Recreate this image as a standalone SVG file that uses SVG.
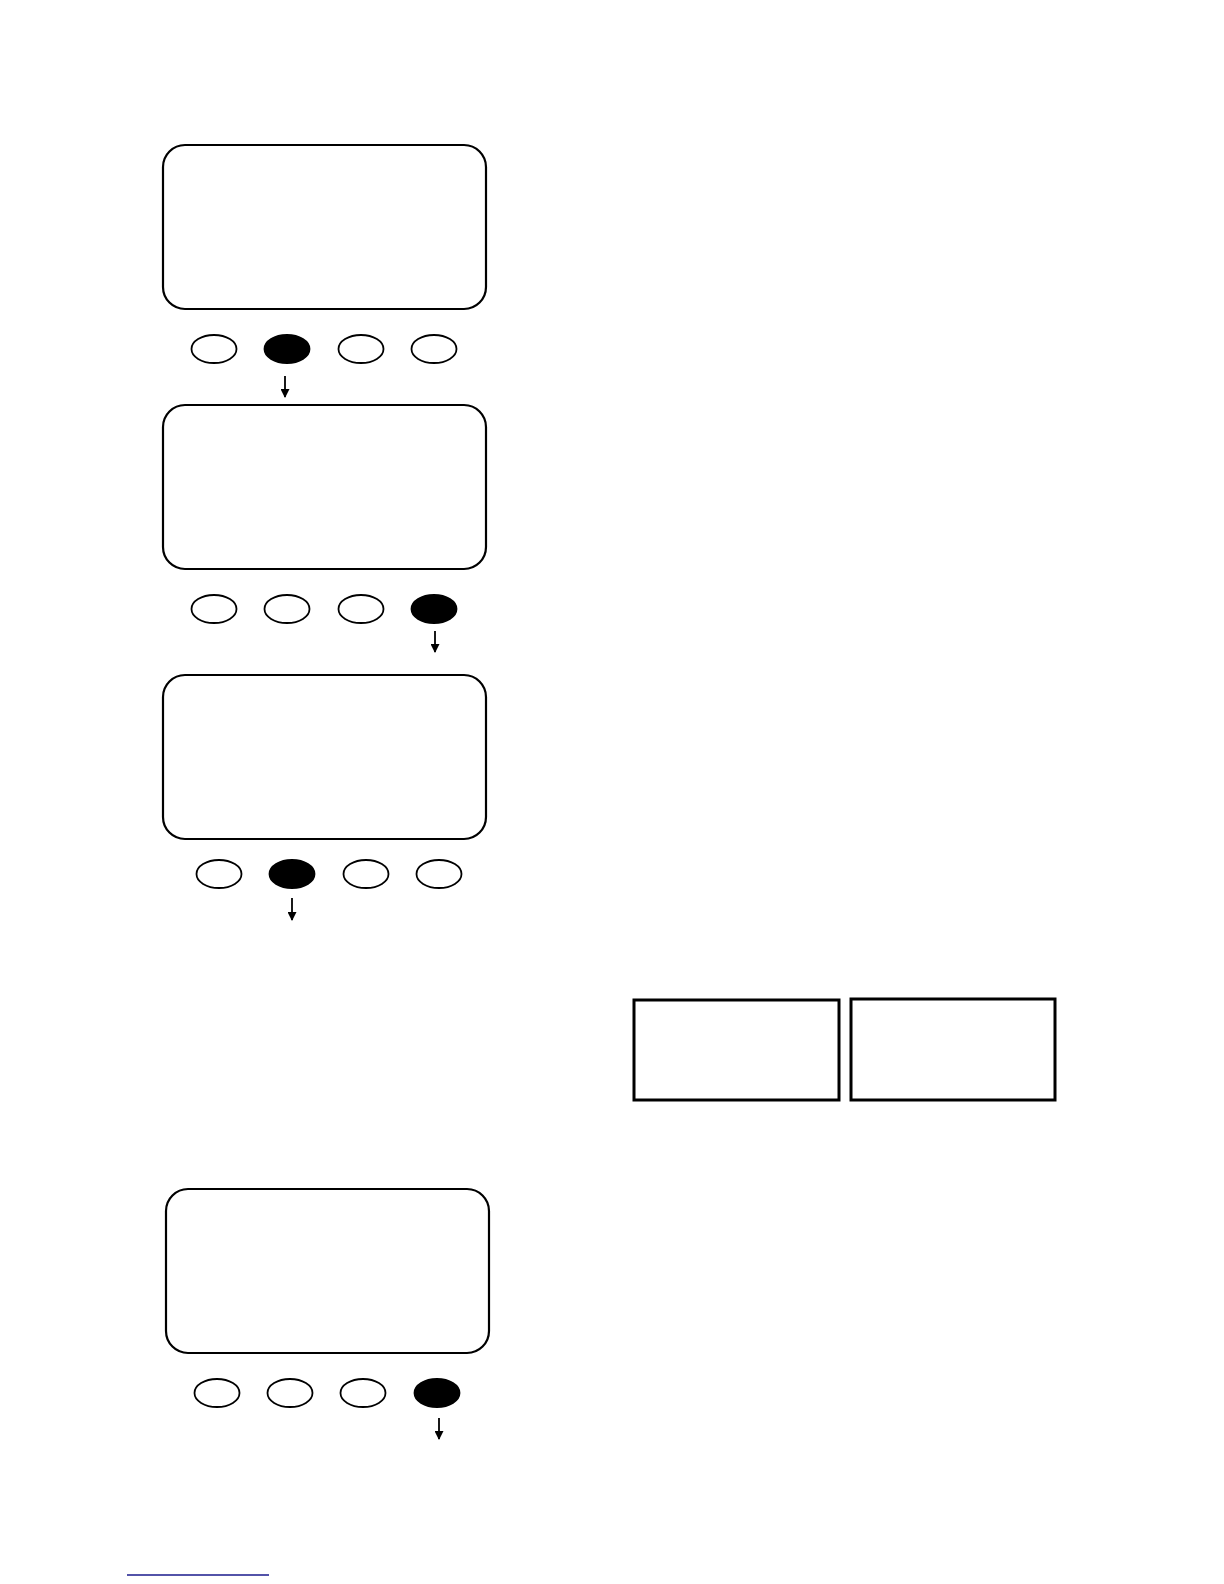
<svg xmlns="http://www.w3.org/2000/svg" width="1224" height="1584" viewBox="0 0 1224 1584">
<style>
.screen{fill:#fff;stroke:#000;stroke-width:2.2}
.btn{fill:#fff;stroke:#000;stroke-width:1.8}
.on{fill:#000;stroke:#000;stroke-width:1.8}
.box{fill:#fff;stroke:#000;stroke-width:3}
.conn{stroke:#000;stroke-width:1.8;fill:none}
</style>
<defs>
<marker id="ah" viewBox="0 0 10 10" refX="9" refY="5" markerWidth="10" markerHeight="9" markerUnits="userSpaceOnUse" orient="auto">
<path d="M0,0 L10,5 L0,10 z" fill="#000"/>
</marker>
</defs>
<rect width="1224" height="1584" fill="#fff"/>
<g id="panel1">
<rect class="screen" x="163" y="145" width="323" height="164" rx="22"/>
<ellipse class="btn" cx="214" cy="349" rx="22.5" ry="14"/>
<ellipse class="on" cx="287" cy="349" rx="22.5" ry="14"/>
<ellipse class="btn" cx="361" cy="349" rx="22.5" ry="14"/>
<ellipse class="btn" cx="434" cy="349" rx="22.5" ry="14"/>
</g>
<g id="panel2">
<rect class="screen" x="163" y="405" width="323" height="164" rx="22"/>
<ellipse class="btn" cx="214" cy="609" rx="22.5" ry="14"/>
<ellipse class="btn" cx="287" cy="609" rx="22.5" ry="14"/>
<ellipse class="btn" cx="361" cy="609" rx="22.5" ry="14"/>
<ellipse class="on" cx="434" cy="609" rx="22.5" ry="14"/>
</g>
<g id="panel3">
<rect class="screen" x="163" y="675" width="323" height="164" rx="22"/>
<ellipse class="btn" cx="219" cy="874" rx="22.5" ry="14"/>
<ellipse class="on" cx="292" cy="874" rx="22.5" ry="14"/>
<ellipse class="btn" cx="366" cy="874" rx="22.5" ry="14"/>
<ellipse class="btn" cx="439" cy="874" rx="22.5" ry="14"/>
</g>
<g id="box1">
<rect class="box" x="634" y="1000" width="205" height="100"/>
</g>
<g id="box2">
<rect class="box" x="851" y="999" width="204" height="101"/>
</g>
<g id="panel4">
<rect class="screen" x="166" y="1189" width="323" height="164" rx="22"/>
<ellipse class="btn" cx="217" cy="1393" rx="22.5" ry="14"/>
<ellipse class="btn" cx="290" cy="1393" rx="22.5" ry="14"/>
<ellipse class="btn" cx="363" cy="1393" rx="22.5" ry="14"/>
<ellipse class="on" cx="437" cy="1393" rx="22.5" ry="14"/>
</g>
<g id="connectors">
<line class="conn" x1="285" y1="376" x2="285" y2="397" marker-end="url(#ah)"/>
<line class="conn" x1="435" y1="631" x2="435" y2="652" marker-end="url(#ah)"/>
<line class="conn" x1="292" y1="898" x2="292" y2="920" marker-end="url(#ah)"/>
<line class="conn" x1="439" y1="1418" x2="439" y2="1439" marker-end="url(#ah)"/>
</g>
<line x1="127" y1="1575" x2="269" y2="1575" stroke="#1a1a8c" stroke-width="1.6"/>
</svg>
